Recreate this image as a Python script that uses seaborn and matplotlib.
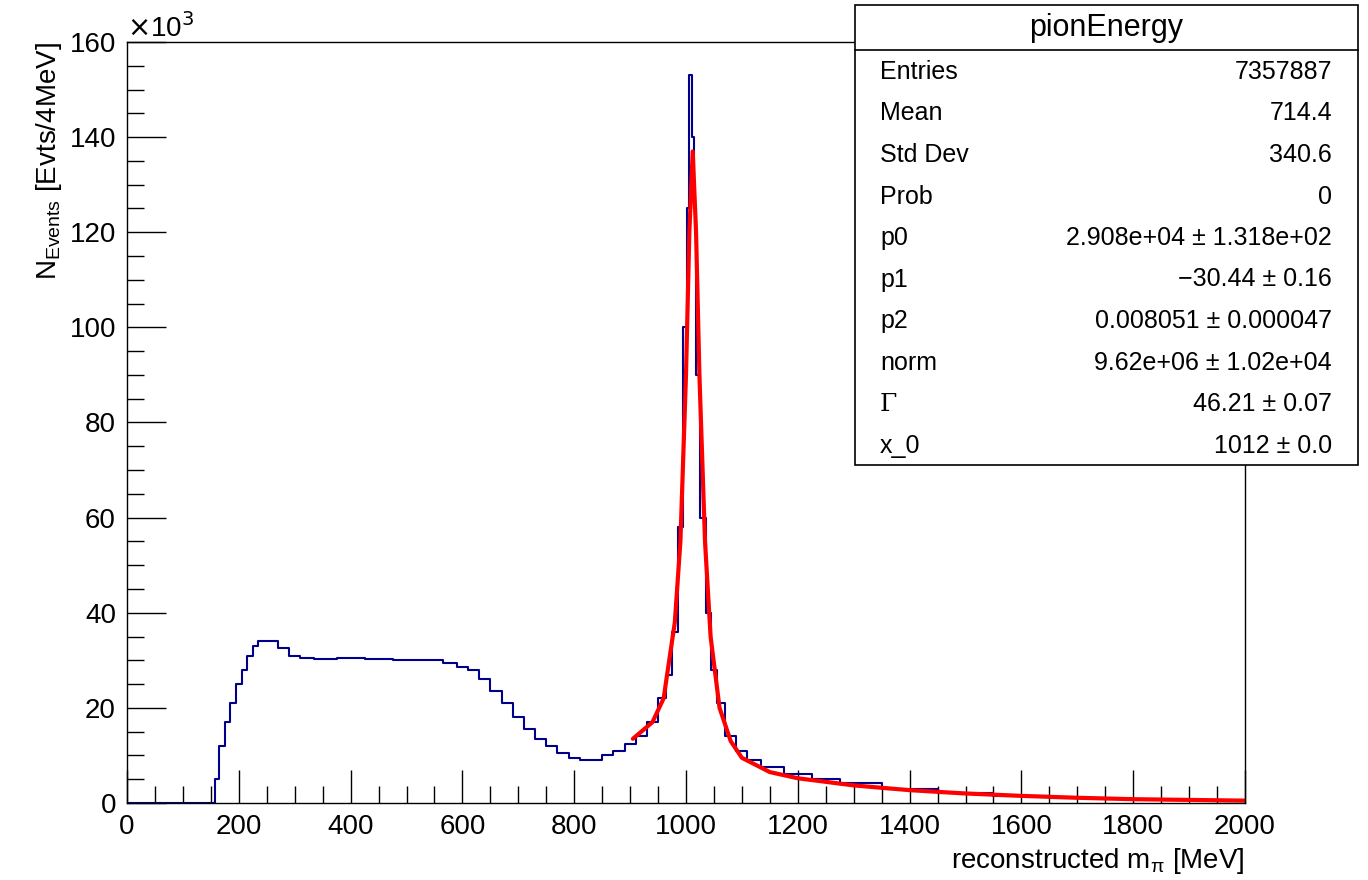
import matplotlib
matplotlib.use("Agg")
import matplotlib.pyplot as plt
import seaborn as sns
from matplotlib.ticker import MultipleLocator

# Histogram (MeV, counts in 1e3)
hist_x = [0, 156, 160, 170, 180, 190, 200, 210, 220, 230, 240, 260, 280, 300, 320, 350, 400, 450, 500, 550,
          580, 600, 620, 640, 660, 680, 700, 720, 740, 760, 780, 800, 820, 840, 860, 880, 900, 920,
          940, 960, 970, 980, 990, 1000, 1004, 1008, 1012, 1016, 1020, 1030, 1040, 1050, 1060, 1080,
          1100, 1120, 1150, 1200, 1250, 1300, 1400, 1500, 1600, 1700, 1800, 1900, 2000]
hist_y = [0, 0, 5, 12, 17, 21, 25, 28, 31, 33, 34, 34, 32.5, 31, 30.5, 30.3, 30.5, 30.3, 30, 30,
          29.5, 28.5, 28, 26, 23.5, 21, 18, 15.5, 13.5, 12, 10.5, 9.5, 9, 9, 10, 11, 12.5, 14,
          17, 22, 27, 36, 58, 100, 125, 153, 140, 125, 90, 60, 40, 28, 21, 14,
          11, 9, 7.5, 6, 5, 4.2, 3, 2.2, 1.5, 1.1, 0.8, 0.6, 0.5]

# Fit curve points
fit_x = [905, 920, 940, 960, 980, 990, 1000, 1006, 1012, 1018, 1024, 1034, 1044, 1060, 1080, 1100,
         1150, 1200, 1300, 1400, 1500, 1600, 1700, 1800, 2000]
fit_y = [13.5, 15, 17, 22, 38, 55, 90, 120, 137, 120, 90, 55, 35, 20, 13, 9.5,
         6.5, 5.2, 3.7, 2.7, 2.0, 1.5, 1.1, 0.8, 0.5]

stats_labels = ["Entries", "Mean", "Std Dev", "Prob", "p0", "p1", "p2", "norm", "Γ", "x_0"]
stats_values = ["7357887", "714.4", "340.6", "0", "2.908e+04 ± 1.318e+02", "−30.44 ± 0.16",
                "0.008051 ± 0.000047", "9.62e+06 ± 1.02e+04", "46.21 ± 0.07", "1012 ± 0.0"]

sns.set_style("white")
plt.rcParams['font.family'] = ['Liberation Sans', 'DejaVu Sans']
plt.rcParams['text.color'] = 'black'
plt.rcParams['axes.labelcolor'] = 'black'
plt.rcParams['xtick.color'] = 'black'
plt.rcParams['ytick.color'] = 'black'

fig = plt.figure(figsize=(13.68, 8.8), dpi=100)
ax = fig.add_axes([127/1368, 1-803/880, (1245-127)/1368, (803-42)/880])

sns.lineplot(x=hist_x, y=hist_y, ax=ax, color="#00008b", lw=1.5, drawstyle="steps-mid",
             estimator=None, sort=False)
sns.lineplot(x=fit_x, y=fit_y, ax=ax, color="red", lw=3, estimator=None, sort=False)

ax.set_xlim(0, 2000)
ax.set_ylim(0, 160)
ax.xaxis.set_major_locator(MultipleLocator(200))
ax.xaxis.set_minor_locator(MultipleLocator(50))
ax.yaxis.set_major_locator(MultipleLocator(20))
ax.yaxis.set_minor_locator(MultipleLocator(5))
ax.tick_params(which="both", bottom=True, left=True, top=False, right=False, direction="in")
ax.tick_params(which="major", length=28, labelsize=20, width=1, pad=8)
ax.tick_params(axis="x", which="major", length=24)
ax.tick_params(which="minor", length=12, width=1)
for s in ax.spines.values():
    s.set_linewidth(1)
    s.set_color("black")

ax.set_xlabel(r"reconstructed m$_{\mathregular{\pi}}$ [MeV]", fontsize=20, loc="right")
ax.set_ylabel(r"N$_{\mathregular{Events}}$ [Evts/4MeV]", fontsize=20, loc="top")
fig.text(127/1368, 1-28/880, r"$\times$10$^{3}$", fontsize=20, va="center")

# stats box
bx0, bx1, by0, by1 = 855/1368, 1358/1368, 1-465/880, 1-5/880
fig.patches.append(plt.Rectangle((bx0, by0), bx1-bx0, by1-by0, transform=fig.transFigure,
                                 facecolor="white", edgecolor="black", lw=1.2, zorder=10))
fig.add_artist(plt.Line2D([bx0, bx1], [1-50/880]*2, color="black", lw=1.2, zorder=11))
fig.text((bx0+bx1)/2, 1-28/880, "pionEnergy", fontsize=22, ha="center", va="center", zorder=12)
for i, (l, v) in enumerate(zip(stats_labels, stats_values)):
    y = 1-(72+i*41.5)/880
    kw = dict(family="DejaVu Serif") if l == "Γ" else {}
    fig.text(880/1368, y, l, fontsize=18, va="center", zorder=12, **kw)
    fig.text(1332/1368, y, v, fontsize=18, va="center", ha="right", zorder=12)

fig.savefig("out.png", dpi=100)
